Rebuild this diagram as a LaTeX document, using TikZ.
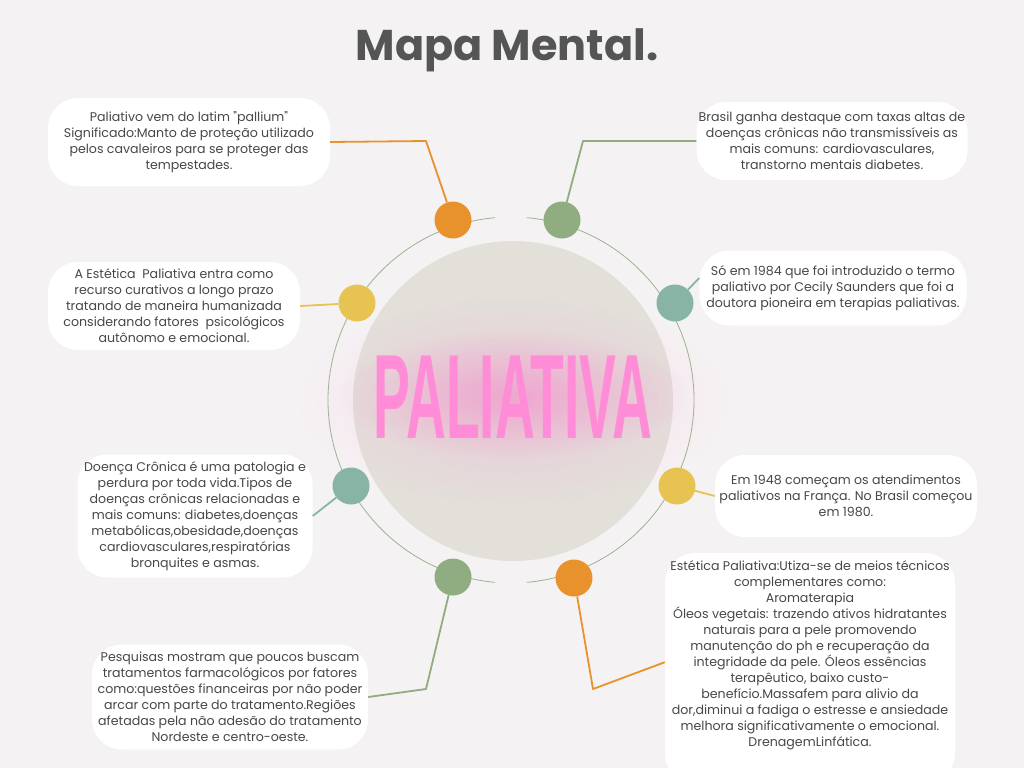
\documentclass[tikz,border=0pt]{standalone}
\usepackage{fontspec}
\setmainfont{Poppins}
\newfontfamily\neonfont{Liberation Sans}
\usepackage{graphicx}
\usepackage{tikz}
\usetikzlibrary{fadings}

\definecolor{paper}{HTML}{F5F2F3}
\definecolor{titlegray}{HTML}{555555}
\definecolor{ink}{HTML}{474747}
\definecolor{dotorange}{HTML}{E8922E}
\definecolor{dotgreen}{HTML}{8FAD80}
\definecolor{dotyellow}{HTML}{E7C452}
\definecolor{dotteal}{HTML}{88B4A6}
\definecolor{ringgreen}{HTML}{9DB291}
\definecolor{core}{HTML}{E3E0DA}
\definecolor{neonpink}{HTML}{FF8CD6}
\definecolor{neondeep}{HTML}{F76BBE}

\tikzfading[name=softglow, inner color=transparent!15, outer color=transparent!100]

\newcommand{\neonword}{\scalebox{0.46}[1]{\neonfont\bfseries\fontsize{120}{120}\selectfont PALIATIVA}}

\begin{document}
\begin{tikzpicture}[x=1pt,y=-1pt,
  note/.style={fill=white,rounded corners=30pt,align=center,inner sep=0pt,
               font=\fontsize{12.6}{16}\selectfont,text=ink},
  dot/.style={circle,minimum size=37pt,inner sep=0pt},
  conn/.style={line width=1.8pt,line join=round},
  ring/.style={draw=ringgreen,line width=0.8pt},
]
\useasboundingbox[fill=paper] (0,0) rectangle (1024,768);
% title
\node[font=\fontsize{43}{43}\selectfont\bfseries,text=titlegray,anchor=base] (title) at (507,60) {Mapa Mental.};
% ring round the centre
\draw[ring] (511,400) ++(275:183) arc[start angle=275,end angle=445,radius=183];
\draw[ring] (511,400) ++(95:183) arc[start angle=95,end angle=265,radius=183];
% centre with neon word
\node[circle,fill=core,minimum size=320pt,inner sep=0pt] (hub) at (513,401) {};
\fill[neonpink,opacity=.3,path fading=softglow] (hub.center) ellipse[x radius=215,y radius=110];
\fill[neondeep,opacity=.45,path fading=softglow] (513,395) ellipse[x radius=175,y radius=64];
\node[text=neonpink,anchor=base,inner sep=0pt] (word) at (513,438) {\neonword};
% dots
\node[dot,fill=dotorange] (d1) at (453,220) {};
\node[dot,fill=dotgreen]  (d2) at (562,220) {};
\node[dot,fill=dotyellow] (d3) at (357,303) {};
\node[dot,fill=dotteal]   (d4) at (675,303) {};
\node[dot,fill=dotteal]   (d5) at (351,486) {};
\node[dot,fill=dotyellow] (d6) at (677,486) {};
\node[dot,fill=dotgreen]  (d7) at (453,577) {};
\node[dot,fill=dotorange] (d8) at (574,578) {};
% notes
\node[note,minimum width=282pt,minimum height=88pt] (b1) at (189,142)
  {Paliativo vem do latim \textquotedbl pallium\textquotedbl\\Significado:Manto de proteção utilizado\\pelos cavaleiros para se proteger das\\tempestades.};
\node[note,minimum width=271pt,minimum height=78pt] (b2) at (832,141)
  {Brasil ganha destaque com taxas altas de\\doenças crônicas não transmissíveis as\\mais comuns: cardiovasculares,\\transtorno mentais diabetes.};
\node[note,minimum width=252pt,minimum height=88pt] (b3) at (174,306)
  {A Estética\ \ Paliativa entra como\\recurso curativos a longo prazo\\tratando de maneira humanizada\\considerando fatores\ \ psicológicos\\autônomo e emocional.};
\node[note,minimum width=267pt,minimum height=75pt] (b4) at (833,288)
  {Só em 1984 que foi introduzido o termo\\paliativo por Cecily Saunders que foi a\\doutora pioneira em terapias paliativas.};
\node[note,minimum width=235pt,minimum height=123pt] (b5) at (195,516)
  {Doença Crônica é uma patologia e\\perdura por toda vida.Tipos de\\doenças crônicas relacionadas e\\mais comuns: diabetes,doenças\\metabólicas,obesidade,doenças\\cardiovasculares,respiratórias\\bronquites e asmas.};
\node[note,minimum width=262pt,minimum height=82pt] (b6) at (846,496)
  {Em 1948 começam os atendimentos\\paliativos na França. No Brasil começou\\em 1980.};
\node[note,minimum width=276pt,minimum height=105pt] (b7) at (230,697)
  {Pesquisas mostram que poucos buscam\\tratamentos farmacológicos por fatores\\como:questões financeiras por não poder\\arcar com parte do tratamento.Regiões\\afetadas pela não adesão do tratamento\\Nordeste e centro-oeste.};
\node[note,minimum width=290pt,minimum height=230pt,anchor=north] (b8) at (810,553) {};
\node[font=\fontsize{12.6}{16}\selectfont,text=ink,align=center,inner sep=0pt] (t8) at (810,655)
  {Estética Paliativa:Utiza-se de meios técnicos\\complementares como:\\Aromaterapia\\Óleos vegetais: trazendo ativos hidratantes\\naturais para a pele promovendo\\manutenção do ph e recuperação da\\integridade da pele. Óleos essências\\terapêutico, baixo custo-\\benefício.Massafem para alivio da\\dor,diminui a fadiga o estresse e ansiedade\\melhora significativamente o emocional.\\DrenagemLinfática.};
% connectors
\coordinate (k1) at (426,141);
\coordinate (k2) at (583,141);
\coordinate (k7) at (426,689);
\coordinate (k8) at (593,689);
\draw[conn,dotorange] (d1) -- (k1) -- (b1.east);
\draw[conn,dotgreen]  (d2) -- (k2) -- (b2.west);
\draw[conn,dotyellow] (d3) -- (b3.east);
\draw[conn,dotteal]   (d4) -- ([yshift=10pt]b4.west);
\draw[conn,dotteal]   (d5) -- (b5.east);
\draw[conn,dotyellow] (d6) -- (b6.west);
\draw[conn,dotgreen]  (d7) -- (k7) -- (b7.east);
\draw[conn,dotorange] (d8) -- (k8) -- ([yshift=6pt]b8.west);
\end{tikzpicture}
\end{document}
